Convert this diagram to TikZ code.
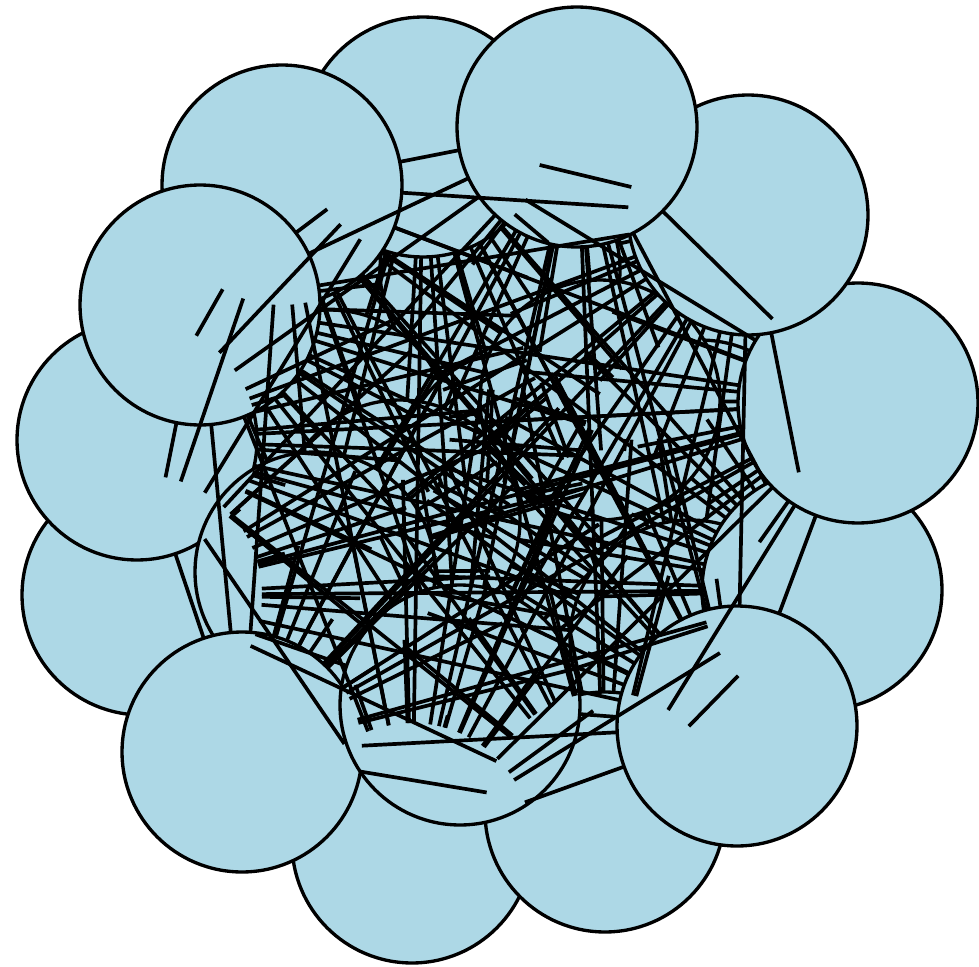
\documentclass[tikz,border=0pt]{standalone}
\definecolor{nodeblue}{RGB}{173,216,230}
\tikzset{
  vtx/.style={circle, draw=black, fill=nodeblue, line width=1.9pt, minimum size=4.8cm, inner sep=0pt, outer sep=0pt},
  lnk/.style={draw=black, line width=2.1pt}
}
\begin{document}
\begin{tikzpicture}[x=0.02cm,y=-0.02cm]
\useasboundingbox (0,0) rectangle (979,966);
\def\xs{{423,577,282,200,748,858,137,142,822,242,460,737,412,605,315,400,640,610,700,500,330,520,480,690,600,400}}
\def\ys{{137,127,185,305,215,403,440,595,590,752,705,726,843,812,572,360,320,570,460,270,430,470,600,640,400,520}}
\foreach \k in {16,17,18,19,20,21,22,23,24,25,26,1,3,8,7,4,15,13,14,10,11,9,12,6,5,2}{
  \pgfmathsetmacro\px{\xs[\k-1]}
  \pgfmathsetmacro\py{\ys[\k-1]}
  \node[vtx] (n\k) at (\px,\py) {};
}
\foreach \i in {1,...,25}{
  \pgfmathtruncatemacro\js{\i+1}
  \foreach \j in {\js,...,26}{
    \pgfmathsetmacro\dd{veclen(\xs[\i-1]-\xs[\j-1],\ys[\i-1]-\ys[\j-1])}
    \pgfmathtruncatemacro\nolink{and(\i==8,\j==13)}
    \ifnum\nolink=0
      \ifdim\dd pt>250pt \draw[lnk] (n\i) -- (n\j);\fi
    \fi
  }
}
\end{tikzpicture}
\end{document}
